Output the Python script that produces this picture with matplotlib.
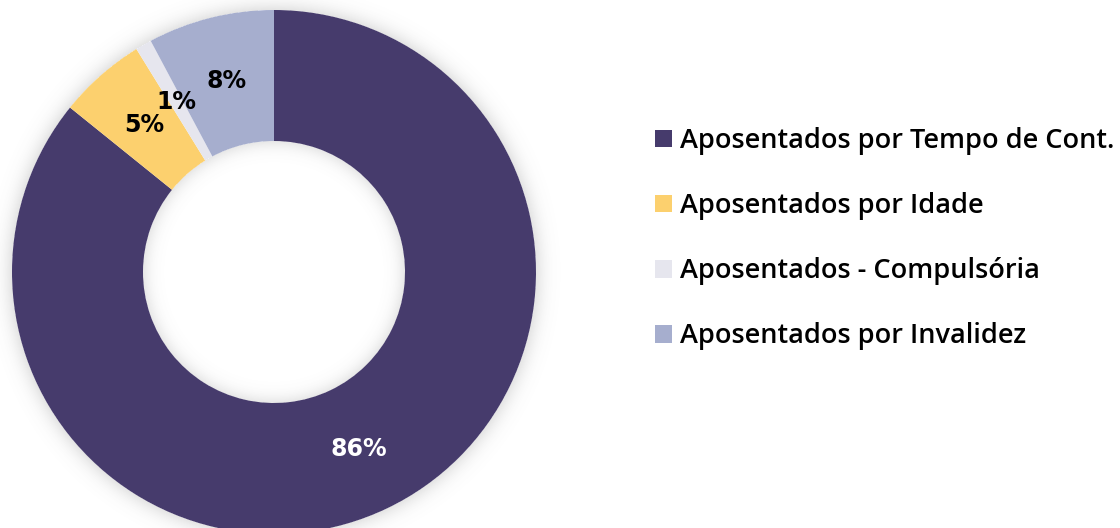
import numpy as np
import matplotlib.pyplot as plt
from matplotlib.patches import Patch

# data (clockwise from 12 o'clock)
categories = ['Aposentados por Tempo de Cont.', 'Aposentados por Idade',
              'Aposentados - Compulsória', 'Aposentados por Invalidez']
values = [85.8, 5.4, 1.0, 7.8]
colors = ['#463b6c', '#fcd06e', '#e6e6ee', '#a6aece']
label_colors = ['white', 'black', 'black', 'black']

W, H = 1120, 528
fig = plt.figure(figsize=(W / 100, H / 100), dpi=100)
ax = fig.add_axes([0, 0, 1, 1])

cx, cy = 274, 256
R = 262
ring = 0.5

# soft shadow round the ring
yy, xx = np.mgrid[0:H, 0:W] + 0.5
d = np.hypot(xx - cx, yy - cy)
shade = np.zeros_like(d)
out = d > R
shade[out] = 0.16 * np.exp(-((d[out] - R) / 9.0) ** 1.3)
inn = d < R * (1 - ring)
shade[inn] = 0.14 * np.exp(-((R * (1 - ring) - d[inn]) / 8.0) ** 1.3)
rgba = np.zeros((H, W, 4))
rgba[..., :3] = 0.35
rgba[..., 3] = shade
ax.imshow(rgba, extent=(0, W, 0, H), origin='lower', zorder=0, interpolation='bilinear')

wedges, _, autotexts = ax.pie(values, colors=colors, startangle=90, counterclock=False,
                              center=(cx, cy), radius=R, autopct='%.0f%%', pctdistance=0.75,
                              wedgeprops=dict(width=R * ring, linewidth=0),
                              textprops=dict(fontsize=17, fontweight='bold', family='DejaVu Sans'),
                              frame=True)
ax.set_xlim(0, W)
ax.set_ylim(0, H)
ax.set_aspect('equal')
ax.axis('off')
for t, c in zip(autotexts, label_colors):
    t.set_color(c)

handles = [Patch(facecolor=c, edgecolor='none') for c in colors]
fig.legend(handles, categories, loc='upper left', bbox_to_anchor=(0.575, 0.78),
           frameon=False, prop=dict(family='Open Sans', size=19.5, weight='semibold'),
           handlelength=0.63, handleheight=0.63, handletextpad=0.3, labelspacing=1.37,
           borderaxespad=0)

fig.savefig('out.png', dpi=100, facecolor='white')
